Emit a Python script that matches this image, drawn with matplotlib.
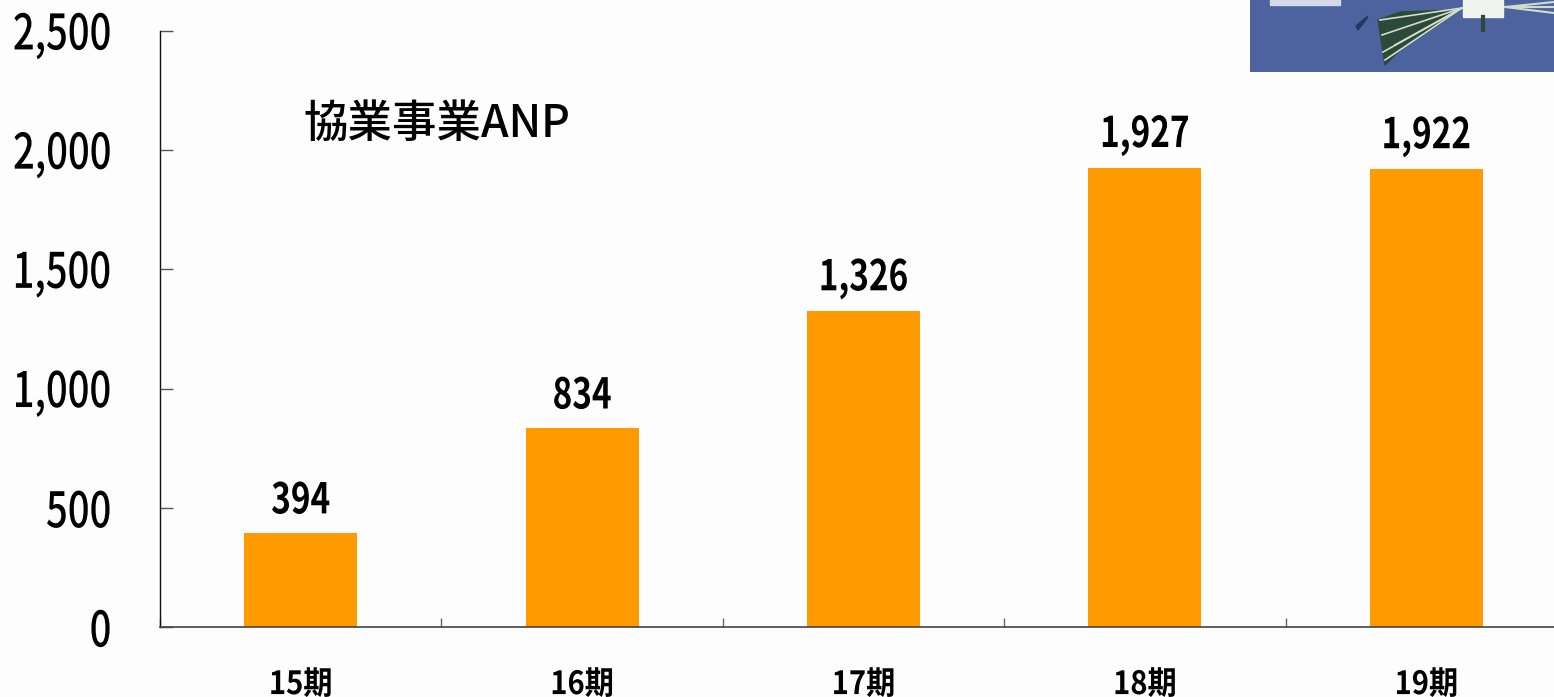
import matplotlib
matplotlib.use('Agg')
import matplotlib.pyplot as plt
from matplotlib.patheffects import AbstractPathEffect
from matplotlib.ticker import FuncFormatter
from matplotlib.transforms import Affine2D

# データ
periods = ['15期', '16期', '17期', '18期', '19期']
anp = [394, 834, 1326, 1927, 1922]
y_ticks = [0, 500, 1000, 1500, 2000, 2500]
chart_title = '協業事業ANP'

W, H = 1554, 697
plt.rcParams['font.family'] = ['Noto Sans CJK JP', 'DejaVu Sans']


class TallText(AbstractPathEffect):
    """元の図の細長い数字に合わせて文字を縦に伸ばす"""
    def __init__(self, sy):
        super().__init__()
        self.sy = sy

    def draw_path(self, renderer, gc, tpath, affine, rgbFace=None):
        ext = tpath.get_extents()
        cy = (ext.y0 + ext.y1) / 2
        a = Affine2D().translate(0, -cy).scale(1, self.sy).translate(0, cy) + affine
        renderer.draw_path(gc, tpath, a, rgbFace)


fig = plt.figure(figsize=(W / 100, H / 100), dpi=100, facecolor='#fdfdfd')

# 右端は図の外まで伸びている
ax = fig.add_axes([160 / W, 1 - 627 / H, (1567 - 160) / W, (627 - 31) / H], facecolor='#fdfdfd')
x = list(range(len(periods)))
ax.bar(x, anp, width=0.402, color='#ff9a00', zorder=2)
ax.set_xlim(-0.5, 4.5)
ax.set_ylim(0, 2500)

for xi, v in zip(x, anp):
    ax.annotate(f'{v:,}', (xi, v), xytext=(0, 23), textcoords='offset pixels',
                ha='center', va='baseline', fontsize=24, color='black', fontweight='bold',
                path_effects=[TallText(1.27)])

for s in ['top', 'right']:
    ax.spines[s].set_visible(False)
ax.spines['left'].set_linewidth(1.0)
ax.spines['left'].set_color('#111111')
ax.spines['bottom'].set_linewidth(1.2)
ax.spines['bottom'].set_color('#444444')

ax.set_yticks(y_ticks)
ax.yaxis.set_major_formatter(FuncFormatter(lambda v, p: f'{int(v):,}'))
ax.tick_params(axis='y', direction='in', length=9.4, width=1, color='#555555',
               labelsize=27.5, pad=35)
for lab in ax.get_yticklabels():
    lab.set_path_effects([TallText(1.28)])
    lab.set_fontweight('medium')

# x目盛りはカテゴリの境界
ax.set_xticks([i - 0.5 for i in range(len(periods) + 1)])
ax.set_xticklabels([])
ax.tick_params(axis='x', direction='in', length=6.5, width=1, color='#666666')
for xi, p in zip(x, periods):
    ax.annotate(p, (xi, 0), xytext=(0, -66), textcoords='offset pixels',
                ha='center', va='baseline', fontsize=21, fontweight='bold',
                annotation_clip=False, path_effects=[TallText(1.1)])

fig.text(303 / W, 1 - 124 / H, chart_title, fontsize=32, va='center', ha='left',
         fontweight='medium', color='black')

# 右上の写真（簡略）
pic = fig.add_axes([1250 / W, 1 - 72 / H, (W - 1250) / W, 72 / H], facecolor='#4d639f')
pic.set_xlim(1250, 1554)
pic.set_ylim(72, 0)
pic.axis('off')
pic.add_patch(plt.Rectangle((1250, 0), 304, 72, color='#4d639f'))
pic.add_patch(plt.Rectangle((1270, 0), 70, 5, color='#d5d9e8'))
pic.fill([1378, 1400, 1460, 1400, 1385], [20, 12, 10, 50, 65], color='#2c4a3a')
pic.fill([1356, 1368, 1366, 1358], [26, 16, 20, 30], color='#26375f')
for x0, y0 in [(1380, 20), (1382, 35), (1383, 52), (1385, 60), (1395, 45)]:
    pic.plot([x0, 1462], [y0, 8], color='#d3dcc8', lw=1.2)
for y1 in [2, 7, 13]:
    pic.plot([1505, 1554], [7, y1], color='#d3dcc8', lw=1.5)
pic.add_patch(plt.Rectangle((1463, 0), 40, 17, color='#f1f4ee'))
pic.plot([1483, 1483], [17, 30], color='#2c4a3a', lw=3)

fig.savefig('out.png', dpi=100, facecolor=fig.get_facecolor())
